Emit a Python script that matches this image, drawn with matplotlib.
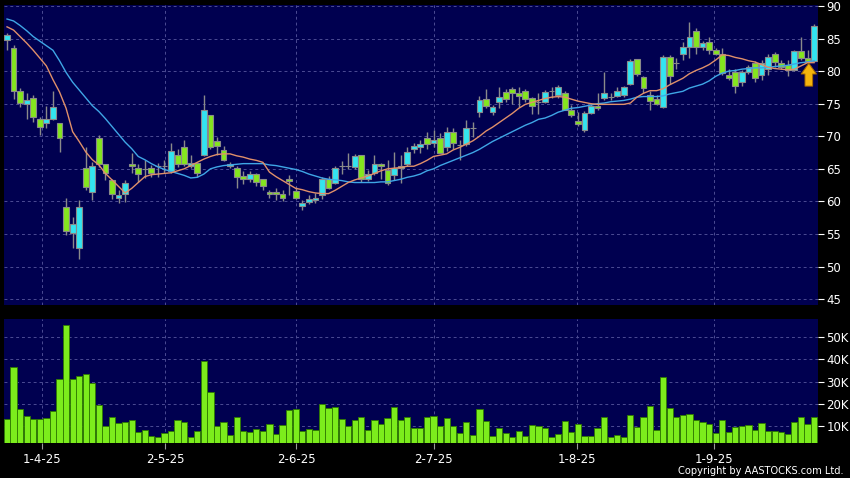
import numpy as np
import matplotlib.pyplot as plt
from matplotlib.ticker import FuncFormatter

# daily candles
opens = [84.8, 83.5, 76.9, 75.0, 75.8, 72.6, 72.0, 72.6, 72.0, 59.2,
         55.2, 52.8, 65.1, 61.5, 69.7, 65.7, 63.3, 60.5, 61.1, 65.8,
         65.1, 65.0, 65.1, 65.5, 65.5, 64.6, 67.1, 68.3, 65.4, 65.9,
         67.1, 73.2, 69.2, 67.9, 65.5, 65.2, 63.9, 63.4, 64.2, 63.4,
         61.5, 61.5, 61.1, 63.4, 61.6, 59.3, 59.9, 60.2, 61.0, 63.5,
         62.8, 65.4, 65.4, 65.3, 67.1, 63.5, 64.4, 65.8, 64.8, 64.0,
         65.1, 65.8, 68.0, 68.3, 69.8, 69.0, 69.7, 68.4, 70.7, 68.6,
         68.8, 71.2, 73.8, 75.7, 73.7, 75.2, 76.8, 77.3, 76.7, 77.0,
         75.8, 75.3, 75.3, 77.0, 76.3, 76.7, 74.0, 72.4, 71.0, 73.5,
         74.6, 75.8, 76.1, 76.2, 76.3, 78.0, 81.8, 79.1, 76.4, 75.7,
         74.5, 82.2, 81.3, 82.7, 83.7, 86.2, 83.7, 84.4, 83.2, 82.7,
         79.4, 79.9, 78.4, 79.9, 81.3, 79.4, 80.4, 82.7, 81.3, 81.0,
         80.2, 83.1, 82.0, 81.6]
highs = [85.8, 84.0, 77.4, 76.6, 76.3, 73.0, 74.6, 77.0, 72.0, 60.5,
         57.6, 60.2, 68.4, 66.0, 70.2, 65.8, 63.4, 61.7, 63.3, 67.5,
         65.8, 66.4, 65.6, 65.9, 66.4, 68.9, 68.0, 69.4, 67.1, 66.0,
         76.4, 73.3, 69.9, 68.5, 66.0, 65.4, 64.7, 64.7, 64.3, 63.5,
         61.8, 62.0, 61.8, 64.0, 62.2, 60.2, 61.0, 61.3, 63.8, 63.9,
         65.5, 66.2, 67.4, 67.3, 67.2, 64.8, 67.1, 65.9, 66.3, 67.6,
         67.1, 68.4, 68.9, 69.4, 70.7, 71.0, 70.5, 71.4, 71.2, 69.4,
         72.5, 72.2, 76.2, 77.2, 74.8, 77.6, 77.3, 77.5, 77.5, 77.2,
         76.0, 76.7, 77.1, 77.5, 77.8, 76.9, 74.8, 73.8, 73.9, 74.9,
         76.7, 79.8, 76.6, 77.6, 77.7, 81.9, 81.9, 79.2, 77.0, 76.4,
         82.5, 82.5, 82.0, 84.5, 87.6, 86.6, 84.6, 85.2, 83.5, 83.5,
         80.4, 80.4, 80.2, 81.0, 81.5, 81.7, 82.6, 83.0, 81.7, 81.7,
         83.3, 85.3, 83.3, 87.2]
lows = [83.2, 75.7, 74.5, 72.7, 72.2, 70.2, 71.2, 72.5, 67.6, 54.8,
        52.9, 51.2, 61.7, 60.2, 65.3, 63.3, 60.3, 59.7, 59.9, 64.4,
        63.0, 63.6, 63.8, 63.8, 64.3, 64.3, 65.3, 65.5, 65.2, 63.8,
        66.9, 68.1, 67.1, 66.2, 65.1, 62.1, 62.7, 63.0, 62.4, 61.7,
        60.5, 60.2, 60.0, 61.0, 60.3, 58.7, 59.6, 59.8, 60.3, 61.9,
        62.6, 64.2, 64.9, 65.0, 63.0, 63.1, 64.1, 63.5, 62.5, 63.3,
        62.8, 65.4, 67.4, 67.4, 68.1, 68.4, 67.4, 67.8, 68.1, 66.4,
        68.5, 69.9, 73.0, 74.4, 73.3, 74.4, 75.3, 74.9, 74.5, 75.3,
        73.4, 73.4, 75.1, 75.8, 75.9, 74.0, 73.0, 71.6, 70.7, 73.4,
        74.1, 75.6, 75.6, 76.1, 76.1, 77.9, 79.3, 76.7, 74.1, 74.8,
        74.4, 78.1, 80.4, 81.7, 82.0, 82.7, 83.3, 82.7, 82.4, 79.4,
        78.6, 76.6, 77.7, 79.6, 78.4, 78.6, 79.4, 80.7, 80.4, 79.3,
        80.0, 81.7, 81.3, 81.4]
closes = [85.5, 76.9, 75.1, 75.5, 72.9, 71.4, 72.6, 74.5, 69.7, 55.4,
          56.6, 59.1, 62.2, 65.5, 65.7, 64.3, 61.1, 61.0, 62.9, 65.5,
          64.2, 65.0, 64.4, 65.5, 65.5, 67.8, 65.8, 65.7, 65.9, 64.4,
          74.0, 68.3, 68.5, 66.3, 65.8, 63.7, 63.4, 64.2, 63.0, 62.4,
          61.2, 61.1, 60.6, 63.1, 60.5, 59.7, 60.3, 60.6, 63.4, 62.1,
          65.2, 65.4, 65.4, 66.9, 63.5, 64.2, 65.8, 65.5, 62.9, 65.2,
          65.4, 67.6, 68.5, 68.8, 68.8, 69.4, 67.5, 70.7, 68.9, 68.6,
          71.2, 71.2, 75.5, 74.6, 74.5, 76.0, 75.7, 76.7, 76.2, 75.7,
          74.6, 75.3, 76.8, 77.0, 77.6, 74.0, 73.3, 71.9, 73.5, 74.6,
          74.3, 76.7, 76.1, 77.0, 77.5, 81.6, 79.6, 77.4, 75.4, 74.9,
          82.2, 79.2, 81.3, 83.7, 85.2, 83.7, 84.3, 83.2, 82.7, 79.7,
          78.9, 77.7, 79.8, 80.7, 78.9, 81.2, 82.1, 81.4, 80.7, 80.2,
          83.1, 82.0, 81.6, 86.9]

# volume in thousands of shares
volumes = [13.4, 36.4, 17.9, 14.7, 13.3, 13.3, 13.7, 17.0, 31.0, 55.2,
           31.0, 32.5, 33.4, 29.3, 19.6, 10.4, 14.4, 11.5, 12.2, 12.7,
           7.5, 8.5, 5.9, 5.3, 7.0, 7.9, 13.0, 11.8, 5.3, 7.9,
           39.3, 25.3, 10.0, 11.8, 6.3, 14.0, 8.1, 7.3, 9.0, 7.8,
           11.0, 6.6, 10.6, 17.4, 18.0, 7.8, 9.0, 8.2, 20.1, 18.3,
           18.9, 13.4, 10.0, 13.0, 14.4, 8.5, 12.7, 11.2, 13.7, 18.9,
           13.0, 14.0, 9.3, 9.3, 14.0, 14.7, 10.4, 13.9, 10.3, 7.0,
           12.1, 6.3, 17.7, 12.5, 5.9, 9.3, 7.0, 5.4, 7.8, 5.6,
           10.7, 10.4, 9.1, 5.4, 6.6, 12.5, 7.6, 11.0, 5.6, 5.6,
           9.3, 14.4, 5.1, 6.3, 5.1, 15.2, 9.7, 14.1, 19.3, 8.5,
           32.2, 18.1, 14.0, 14.9, 15.5, 13.0, 11.9, 11.0, 7.0, 13.0,
           7.5, 9.7, 10.0, 10.7, 8.5, 11.5, 8.1, 8.1, 7.3, 6.7,
           11.8, 14.0, 11.2, 14.0]

# moving averages as drawn on the chart
ma_short = [86.8, 86.3, 85.3, 84.3, 83.2, 82.0, 80.8, 78.7, 76.8, 74.3,
            70.7, 69.2, 67.6, 66.4, 65.6, 64.3, 63.3, 62.3, 61.3, 62.0,
            62.9, 63.8, 64.1, 64.2, 64.3, 64.4, 64.7, 65.0, 65.5, 66.0,
            66.5, 66.9, 67.2, 67.3, 67.3, 67.0, 66.8, 66.5, 66.3, 66.0,
            64.5, 63.8, 63.2, 62.6, 62.0, 61.8, 61.5, 61.3, 61.2, 61.2,
            61.7, 62.3, 62.9, 63.3, 63.6, 63.9, 64.3, 64.7, 65.0, 65.1,
            65.2, 65.4, 65.4, 65.8, 66.3, 66.9, 67.1, 67.3, 67.9, 68.3,
            68.8, 69.3, 70.0, 70.8, 71.4, 72.1, 72.8, 73.5, 74.3, 74.9,
            75.2, 75.5, 75.8, 76.0, 76.1, 76.0, 75.7, 75.4, 75.2, 75.0,
            74.9, 74.9, 74.9, 74.9, 74.9, 75.1, 76.0, 76.6, 77.0, 77.0,
            77.3, 77.9, 78.4, 78.9, 79.6, 80.1, 80.5, 81.0, 81.7, 82.5,
            82.4, 82.1, 81.9, 81.6, 81.4, 81.0, 80.6, 80.4, 80.3, 80.2,
            80.3, 80.8, 81.3, 81.3]
ma_long = [88.0, 87.7, 87.0, 86.2, 85.3, 84.6, 83.9, 83.2, 81.6, 79.8,
           78.3, 77.1, 75.9, 74.7, 73.8, 72.7, 71.5, 70.3, 69.1, 68.1,
           66.9, 66.4, 65.8, 65.3, 64.9, 64.6, 64.3, 64.0, 63.6, 63.7,
           64.2, 65.0, 65.3, 65.5, 65.6, 65.7, 65.8, 65.8, 65.8, 65.8,
           65.6, 65.5, 65.3, 65.1, 64.9, 64.6, 64.2, 63.9, 63.6, 63.4,
           63.3, 63.2, 63.0, 62.9, 62.9, 62.9, 62.9, 63.0, 63.0, 63.2,
           63.4, 63.7, 63.9, 64.2, 64.7, 65.0, 65.5, 65.9, 66.3, 66.7,
           67.1, 67.5, 68.0, 68.6, 69.2, 69.7, 70.2, 70.7, 71.2, 71.7,
           72.1, 72.6, 72.8, 73.2, 73.7, 74.0, 74.3, 74.4, 74.6, 74.8,
           75.0, 75.1, 75.3, 75.4, 75.5, 75.7, 76.0, 76.1, 76.1, 76.1,
           76.2, 76.5, 76.7, 76.9, 77.4, 77.7, 78.0, 78.5, 79.2, 79.7,
           80.0, 80.1, 80.3, 80.4, 80.5, 80.5, 80.6, 80.7, 80.8, 80.9,
           81.1, 81.3, 81.4, 81.6]

tick_pos = [5.3, 24.1, 44.1, 65.0, 86.9, 107.7]
tick_labels = ["1-4-25", "2-5-25", "2-6-25", "2-7-25", "1-8-25", "1-9-25"]

NAVY = "#000050"
UP = "#33e4f0"
DOWN = "#84e61e"
GRID = "#4c4c94"

o = np.array(opens)
c = np.array(closes)
x = np.arange(len(o))

fig = plt.figure(figsize=(8.5, 4.78), dpi=100, facecolor="black")
ax = fig.add_axes([4 / 850, 1 - 305 / 478, 814 / 850, 300 / 478])
axv = fig.add_axes([4 / 850, 1 - 443 / 478, 814 / 850, 124 / 478], sharex=ax)

for a in (ax, axv):
    a.set_facecolor(NAVY)
    for s in a.spines.values():
        s.set_visible(False)
    a.grid(True, color=GRID, ls=(0, (3, 3)), lw=0.7)
    a.set_axisbelow(True)
    a.tick_params(axis="y", left=False, labelleft=False, right=True,
                  labelright=True, colors="white", length=4, width=0.8,
                  labelsize=8.5, pad=2)

# candles
body_col = np.where(c > o, UP, np.where(c < o, DOWN, "#909090"))
ax.vlines(x, lows, highs, color="#8a8a8a", lw=1, zorder=2)
ax.bar(x, np.abs(c - o), bottom=np.minimum(o, c), width=0.88,
       color=body_col, edgecolor="#8a8a8a", lw=0.8, zorder=3)
ax.plot(x, ma_long, color="#3fa6e6", lw=1.0, zorder=4)
ax.plot(x, ma_short, color="#e0906a", lw=1.0, zorder=4)

# arrow under the second last candle
ax.annotate("", xy=(len(o) - 1.8, 81.2), xytext=(len(o) - 1.8, 77.7),
            arrowprops=dict(arrowstyle="simple,head_length=0.7,head_width=1.0,tail_width=0.5",
                            fc="#f4b40c", ec="#a86a00", lw=0.7,
                            mutation_scale=11, shrinkA=0, shrinkB=0),
            zorder=6)

ax.set_ylim(44.1, 90.15)
ax.set_yticks(np.arange(45, 91, 5))
ax.set_xlim(-0.46, 123.6)
ax.tick_params(axis="x", bottom=False, labelbottom=False)

# volume
axv.bar(x, np.array(volumes) * 1000, width=0.95, color="#7cec1c",
        edgecolor="#2f7a00", lw=0.6, zorder=3)
axv.set_ylim(2600, 58000)
axv.set_yticks([10000, 20000, 30000, 40000, 50000])
axv.yaxis.set_major_formatter(FuncFormatter(lambda v, p: f"{int(v / 1000)}K"))
axv.set_xticks(tick_pos)
axv.set_xticklabels(tick_labels)
axv.tick_params(axis="x", colors="#9a9a9a", labelcolor="white", length=4,
                width=0.8, labelsize=8.5, pad=3)

fig.text(0.992, 1 - 471 / 478, "Copyright by AASTOCKS.com Ltd.",
         ha="right", va="center", color="white", fontsize=7.1)

fig.savefig("out.png", dpi=100, facecolor="black")
